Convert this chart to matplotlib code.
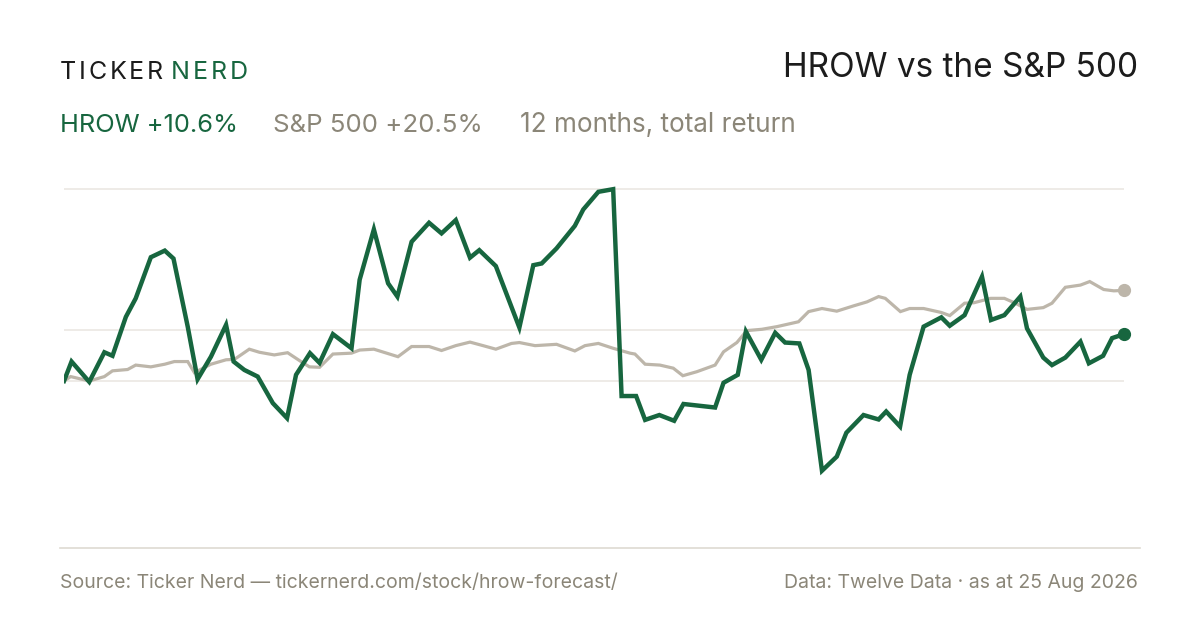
import matplotlib
matplotlib.use("Agg")
import matplotlib.pyplot as plt

# 12 months of total return, % (day offsets from start of window)
hrow_days = [0, 2.6, 8.7, 13.9, 16.7, 21.3, 24.7, 29.9, 34.7, 37.7, 42.6, 46.0,
             50.6, 55.8, 58.4, 62.1, 66.7, 71.9, 76.8, 79.9, 84.7, 88.0, 92.6,
             99.0, 101.8, 106.7, 111.6, 114.8, 119.7, 125.7, 130.0, 134.9, 139.8,
             143.0, 148.7, 156.8, 161.6, 164.5, 169.6, 175.9, 178.8, 184.0, 189.1,
             192.0, 197.0, 200.1, 205.0, 210.1, 213.3, 224.2, 227.1, 232.0, 234.8,
             240.1, 244.9, 248.3, 253.2, 256.4, 261.0, 266.1, 269.4, 275.3, 280.5,
             283.1, 287.9, 291.2, 296.0, 302.1, 305.0, 310.1, 316.1, 319.2, 323.8,
             329.3, 331.6, 337.2, 340.2, 344.8, 350.0, 352.9, 357.8, 360.9, 365]
hrow_ret = [0.0, 4.4, -0.2, 6.5, 5.7, 14.5, 18.7, 28.0, 29.5, 27.7, 12.3, 0.4,
            5.5, 12.7, 4.4, 2.5, 1.0, -5.0, -8.4, 1.4, 6.3, 4.1, 10.6,
            7.4, 22.9, 34.3, 22.1, 19.1, 31.5, 35.8, 33.4, 36.4, 27.9,
            29.6, 26.0, 12.1, 26.2, 26.6, 30.0, 35.1, 38.8, 42.8, 43.4,
            -3.4, -3.4, -8.8, -7.7, -9.0, -5.2, -6.0, -0.4, 1.4, 11.2,
            4.8, 10.9, 8.7, 8.5, 2.5, -20.3, -17.1, -11.7, -7.7, -8.7,
            -6.9, -10.3, 1.4, 12.3, 14.4, 12.5, 14.9, 23.6, 13.8, 14.9,
            19.1, 11.9, 5.3, 3.6, 5.3, 8.9, 4.0, 5.7, 9.7, 10.6]

spx_days = [0, 2.3, 8.7, 13.9, 16.7, 21.9, 24.7, 29.9, 34.7, 38.0, 42.6, 44.9,
            50.6, 55.8, 58.7, 63.8, 67.3, 72.4, 77.0, 81.6, 84.5, 88.0, 92.6,
            99.0, 101.8, 106.7, 115.0, 119.7, 125.7, 130.0, 134.9, 139.8, 144.3,
            148.7, 154.1, 156.8, 162.2, 169.6, 175.9, 179.4, 184.0, 189.1, 194.9,
            196.6, 200.1, 205.2, 209.8, 213.1, 217.9, 224.2, 227.1, 231.7, 235.1,
            240.3, 245.5, 252.9, 256.4, 261.0, 266.1, 271.9, 276.5, 280.5, 282.8,
            288.0, 291.2, 296.0, 302.1, 305.0, 310.1, 313.3, 319.1, 323.8, 327.6,
            331.6, 337.2, 340.2, 344.8, 350.0, 353.2, 358.0, 361.5, 365]
spx_ret = [0.0, 1.0, 0.0, 1.0, 2.3, 2.6, 3.6, 3.2, 3.8, 4.4, 4.4, 1.9,
           3.8, 4.8, 4.9, 7.2, 6.5, 5.9, 6.4, 4.4, 3.2, 3.1, 6.1,
           6.3, 7.0, 7.2, 5.5, 7.8, 7.8, 6.9, 8.0, 8.8, 8.0,
           7.2, 8.5, 8.7, 8.0, 8.3, 6.8, 8.0, 8.5, 7.4, 6.3,
           6.1, 3.8, 3.6, 2.9, 1.2, 2.1, 3.6, 6.6, 8.7, 11.4,
           11.7, 12.3, 13.4, 15.7, 16.4, 15.8, 17.0, 17.9, 19.1, 18.7,
           15.7, 16.4, 16.4, 15.5, 14.8, 17.6, 17.7, 18.7, 18.7, 17.6,
           16.2, 16.6, 17.6, 21.2, 21.7, 22.5, 20.7, 20.4, 20.5]

GREEN = "#17663f"
SAND = "#bdb6aa"
GREY_TXT = "#8b8678"
DARK = "#1c1c1c"
GRID = "#e9e6e0"

W, H = 1200, 630


def fx(px):
    return px / W


def fy(py):
    return 1 - py / H


def spaced_text(fig, x, y, s, track, **kw):
    # matplotlib has no letter-spacing, so place each glyph by hand
    r = fig.canvas.get_renderer()
    for ch in s:
        t = fig.text(fx(x), fy(y), ch, va="baseline", ha="left", **kw)
        x += t.get_window_extent(renderer=r).width + track
    return x


def main():
    plt.rcParams["font.family"] = ["Inter", "DejaVu Sans"]
    fig = plt.figure(figsize=(12, 6.3), dpi=100)
    fig.patch.set_facecolor("white")

    # plot area: 0% sits at y=381px, ~4.42 px per %
    top_px, bot_px = 170, 500
    ax = fig.add_axes([fx(64), fy(bot_px), fx(1124) - fx(64), (bot_px - top_px) / H])
    ax.set_xlim(0, 365)
    ax.set_ylim(-(bot_px - 381) / 4.42, (381 - top_px) / 4.42)
    ax.axis("off")

    hi, lo = max(hrow_ret), min(hrow_ret)
    for g in [hi, (hi + lo) / 2, 0]:
        ax.axhline(g, color=GRID, lw=1.1, zorder=1)

    ax.plot(spx_days, spx_ret, color=SAND, lw=2.3, solid_joinstyle="miter", zorder=2)
    ax.plot(hrow_days, hrow_ret, color=GREEN, lw=3.2, solid_joinstyle="miter", zorder=3)
    ax.plot(spx_days[-1], spx_ret[-1], "o", color=SAND, ms=8.5, clip_on=False, zorder=4)
    ax.plot(hrow_days[-1], hrow_ret[-1], "o", color=GREEN, ms=8.5, clip_on=False, zorder=5)

    # header
    x = spaced_text(fig, 60, 79, "TICKER", 2.7, color=DARK, fontsize=18)
    spaced_text(fig, x + 5, 79, "NERD", 2.9, color=GREEN, fontsize=18)
    fig.text(fx(1138), fy(77), "HROW vs the S&P 500", ha="right", va="baseline",
             color=DARK, fontsize=24)

    fig.text(fx(60), fy(132), "HROW +10.6%", va="baseline", color=GREEN, fontsize=18.3)
    fig.text(fx(273), fy(132), "S&P 500 +20.5%", va="baseline", color=GREY_TXT, fontsize=18.6)
    fig.text(fx(520), fy(132), "12 months, total return", va="baseline", color=GREY_TXT,
             fontsize=18.8)

    # footer
    fig.add_artist(plt.Line2D([fx(60), fx(1140)], [fy(548), fy(548)], color="#dedad2", lw=1.2))
    fig.text(fx(60), fy(588), "Source: Ticker Nerd \u2014 tickernerd.com/stock/hrow-forecast/",
             va="baseline", color=GREY_TXT, fontsize=14)
    fig.text(fx(1138), fy(588), "Data: Twelve Data \u00b7 as at 25 Aug 2026", ha="right",
             va="baseline", color=GREY_TXT, fontsize=14)

    fig.savefig("out.png", dpi=100, facecolor="white")


if __name__ == "__main__":
    main()
